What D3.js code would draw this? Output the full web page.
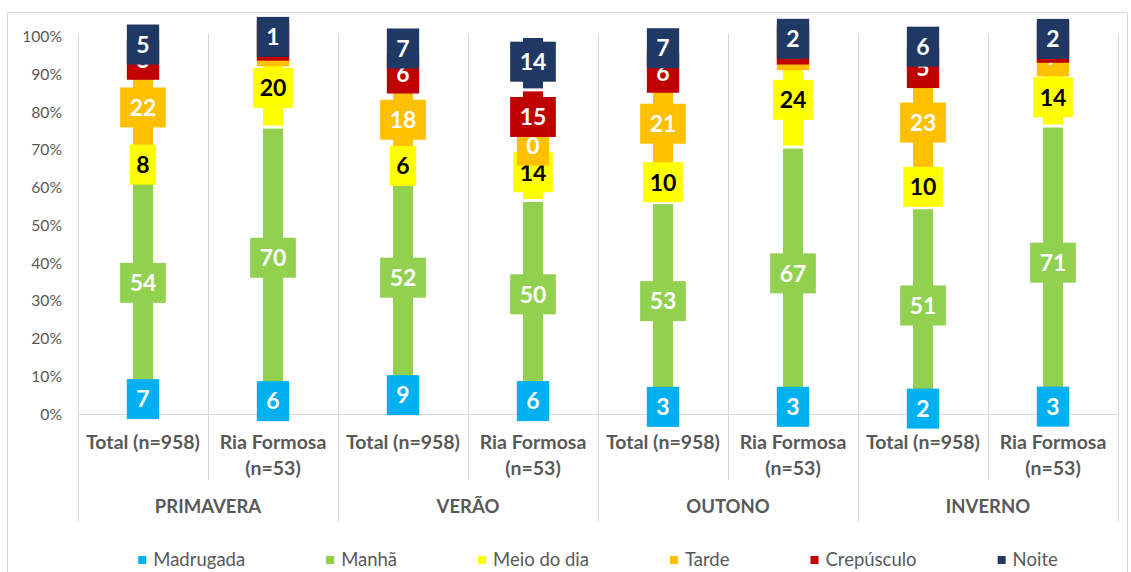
<!DOCTYPE html>
<html>
<head>
<meta charset="utf-8">
<script src="https://cdn.jsdelivr.net/npm/d3@7"></script>
<style>
  html, body { margin: 0; padding: 0; background: #fff; }
  svg { display: block; font-family: Lato, "Open Sans", sans-serif; }
</style>
</head>
<body>
<svg id="chart" width="1131" height="572"></svg>
<script>
// periods of the day (stack order, bottom to top)
const periods = ['Madrugada', 'Manhã', 'Meio do dia', 'Tarde', 'Crepúsculo', 'Noite'];
const periodColors = ['#00B0F0', '#92D050', '#FFFF00', '#FFC000', '#C00000', '#1F3864'];
const labelColors = ['#fff', '#fff', '#000', '#fff', '#fff', '#fff'];

const seasons = ['PRIMAVERA', 'VERÃO', 'OUTONO', 'INVERNO'];
const groups = [['Total (n=958)'], ['Ria Formosa', '(n=53)']];

// one value per bar: Primavera Total, Primavera RF, Verão Total, Verão RF, ...
const madrugada = [7, 6, 9, 6, 3, 3, 2, 3];
const manha = [54, 70, 52, 50, 53, 67, 51, 71];
const meioDia = [8, 20, 6, 14, 10, 24, 10, 14];
const tarde = [22, 2, 18, 0, 21, 2, 23, 7];
const crepusculo = [3, 1, 6, 15, 6, 1, 5, 0];
const noite = [5, 1, 7, 14, 7, 2, 6, 2];

const yTicks = [0, 0.1, 0.2, 0.3, 0.4, 0.5, 0.6, 0.7, 0.8, 0.9, 1];

function drawChart() {
  const svg = d3.select('#chart');
  const series = [madrugada, manha, meioDia, tarde, crepusculo, noite];

  const bars = [];
  seasons.forEach(s => groups.forEach(g => bars.push({season: s, group: g})));
  const rows = bars.map((b, i) => {
    const r = {id: i};
    periods.forEach((p, k) => r[p] = series[k][i]);
    return r;
  });

  const margin = {left: 78, right: 13, top: 36.5, bottom: 158};
  const width = 1131, height = 572;
  const grid = '#d9d9d9', textGray = '#595959';

  const x = d3.scaleBand()
    .domain(d3.range(bars.length))
    .range([margin.left, width - margin.right]);

  const xSeason = d3.scaleBand()
    .domain(seasons)
    .range([margin.left, width - margin.right]);

  const y = d3.scaleLinear()
    .domain([0, 1])
    .range([height - margin.bottom, margin.top]);

  const stacked = d3.stack()
    .keys(periods)
    .offset(d3.stackOffsetExpand)(rows);

  // chart frame
  svg.append('rect')
    .attr('x', 7.5).attr('y', 12.5)
    .attr('width', 1120).attr('height', 600)
    .attr('fill', 'none').attr('stroke', grid);

  // vertical category separators
  const edges = d3.range(bars.length + 1).map(k => k < bars.length ? x(k) : x.range()[1]);
  svg.append('g')
    .selectAll('line')
    .data(edges)
    .join('line')
      .attr('x1', d => Math.round(d) + 0.5)
      .attr('x2', d => Math.round(d) + 0.5)
      .attr('y1', 34)
      .attr('y2', (d, k) => k % 2 === 0 ? 522 : 480)
      .attr('stroke', grid);

  // baseline
  svg.append('line')
    .attr('x1', x.range()[0]).attr('x2', x.range()[1])
    .attr('y1', y(0) + 0.5).attr('y2', y(0) + 0.5)
    .attr('stroke', grid);

  // y axis labels
  svg.append('g')
    .attr('transform', `translate(${margin.left}, 0)`)
    .call(d3.axisLeft(y).tickValues(yTicks).tickFormat(d3.format('.0%')).tickSize(0).tickPadding(16))
    .call(g => g.select('.domain').remove())
    .call(g => g.selectAll('text')
      .attr('fill', textGray)
      .style('font-family', 'Lato')
      .style('font-size', '15.7px'));

  // bars
  const barW = 20, gap = 1.5;
  svg.append('g')
    .selectAll('g')
    .data(stacked)
    .join('g')
      .attr('fill', (d, k) => periodColors[k])
    .selectAll('rect')
    .data(d => d)
    .join('rect')
      .attr('x', (d, i) => x(i) + x.bandwidth() / 2 - barW / 2)
      .attr('width', barW)
      .attr('y', d => y(d[1]) + gap)
      .attr('height', d => Math.max(0, y(d[0]) - y(d[1]) - 2 * gap));

  // data labels with filled boxes, drawn series by series
  stacked.forEach((layer, k) => {
    const g = svg.append('g').attr('class', 'labels');
    layer.forEach((d, i) => {
      const cx = x(i) + x.bandwidth() / 2;
      const cy = (y(d[0]) + y(d[1])) / 2 - 1.5;
      const box = g.append('rect').attr('fill', periodColors[k]);
      const t = g.append('text')
        .attr('x', cx)
        .attr('y', cy)
        .attr('text-anchor', 'middle')
        .attr('dy', '0.36em')
        .attr('fill', labelColors[k])
        .style('font-size', '23px')
        .style('font-weight', 'bold')
        .text(series[k][i]);
      const tw = t.node().getComputedTextLength();
      const bw = tw + (k === 2 ? 13 : 19);
      box.attr('x', cx - bw / 2).attr('y', cy - 20)
        .attr('width', bw).attr('height', 40);
    });
  });

  // category labels
  const catG = svg.append('g');
  bars.forEach((b, i) => {
    const t = catG.append('text')
      .attr('x', x(i) + x.bandwidth() / 2)
      .attr('y', 442)
      .attr('text-anchor', 'middle')
      .attr('fill', textGray)
      .style('font-size', '19.5px')
      .style('font-weight', 'bold');
    b.group.forEach((line, li) => {
      t.append('tspan')
        .attr('x', x(i) + x.bandwidth() / 2)
        .attr('y', 442 + li * 26)
        .attr('dy', '0.35em')
        .text(line);
    });
  });

  // season labels
  svg.append('g')
    .selectAll('text')
    .data(seasons)
    .join('text')
      .attr('x', d => xSeason(d) + xSeason.bandwidth() / 2)
      .attr('y', 507)
      .attr('dy', '0.35em')
      .attr('text-anchor', 'middle')
      .attr('fill', textGray)
      .style('font-size', '18.5px')
      .style('font-weight', 'bold')
      .text(d => d);

  // legend
  const legend = svg.append('g');
  const items = legend.selectAll('g')
    .data(periods)
    .join('g');
  items.append('rect')
    .attr('width', 8).attr('height', 8)
    .attr('y', -4)
    .attr('fill', (d, k) => periodColors[k]);
  items.append('text')
    .attr('x', 15)
    .attr('dy', '0.35em')
    .attr('fill', textGray)
    .style('font-size', '18.5px')
    .text(d => d);
  let pos = 0;
  const offsets = [];
  items.each(function() {
    offsets.push(pos);
    pos += 15 + d3.select(this).select('text').node().getComputedTextLength() + 81;
  });
  const total = pos - 81;
  const start = (x.range()[0] + x.range()[1]) / 2 - total / 2;
  items.attr('transform', (d, k) => `translate(${start + offsets[k]}, 560)`);
}

drawChart();
</script>
</body>
</html>
